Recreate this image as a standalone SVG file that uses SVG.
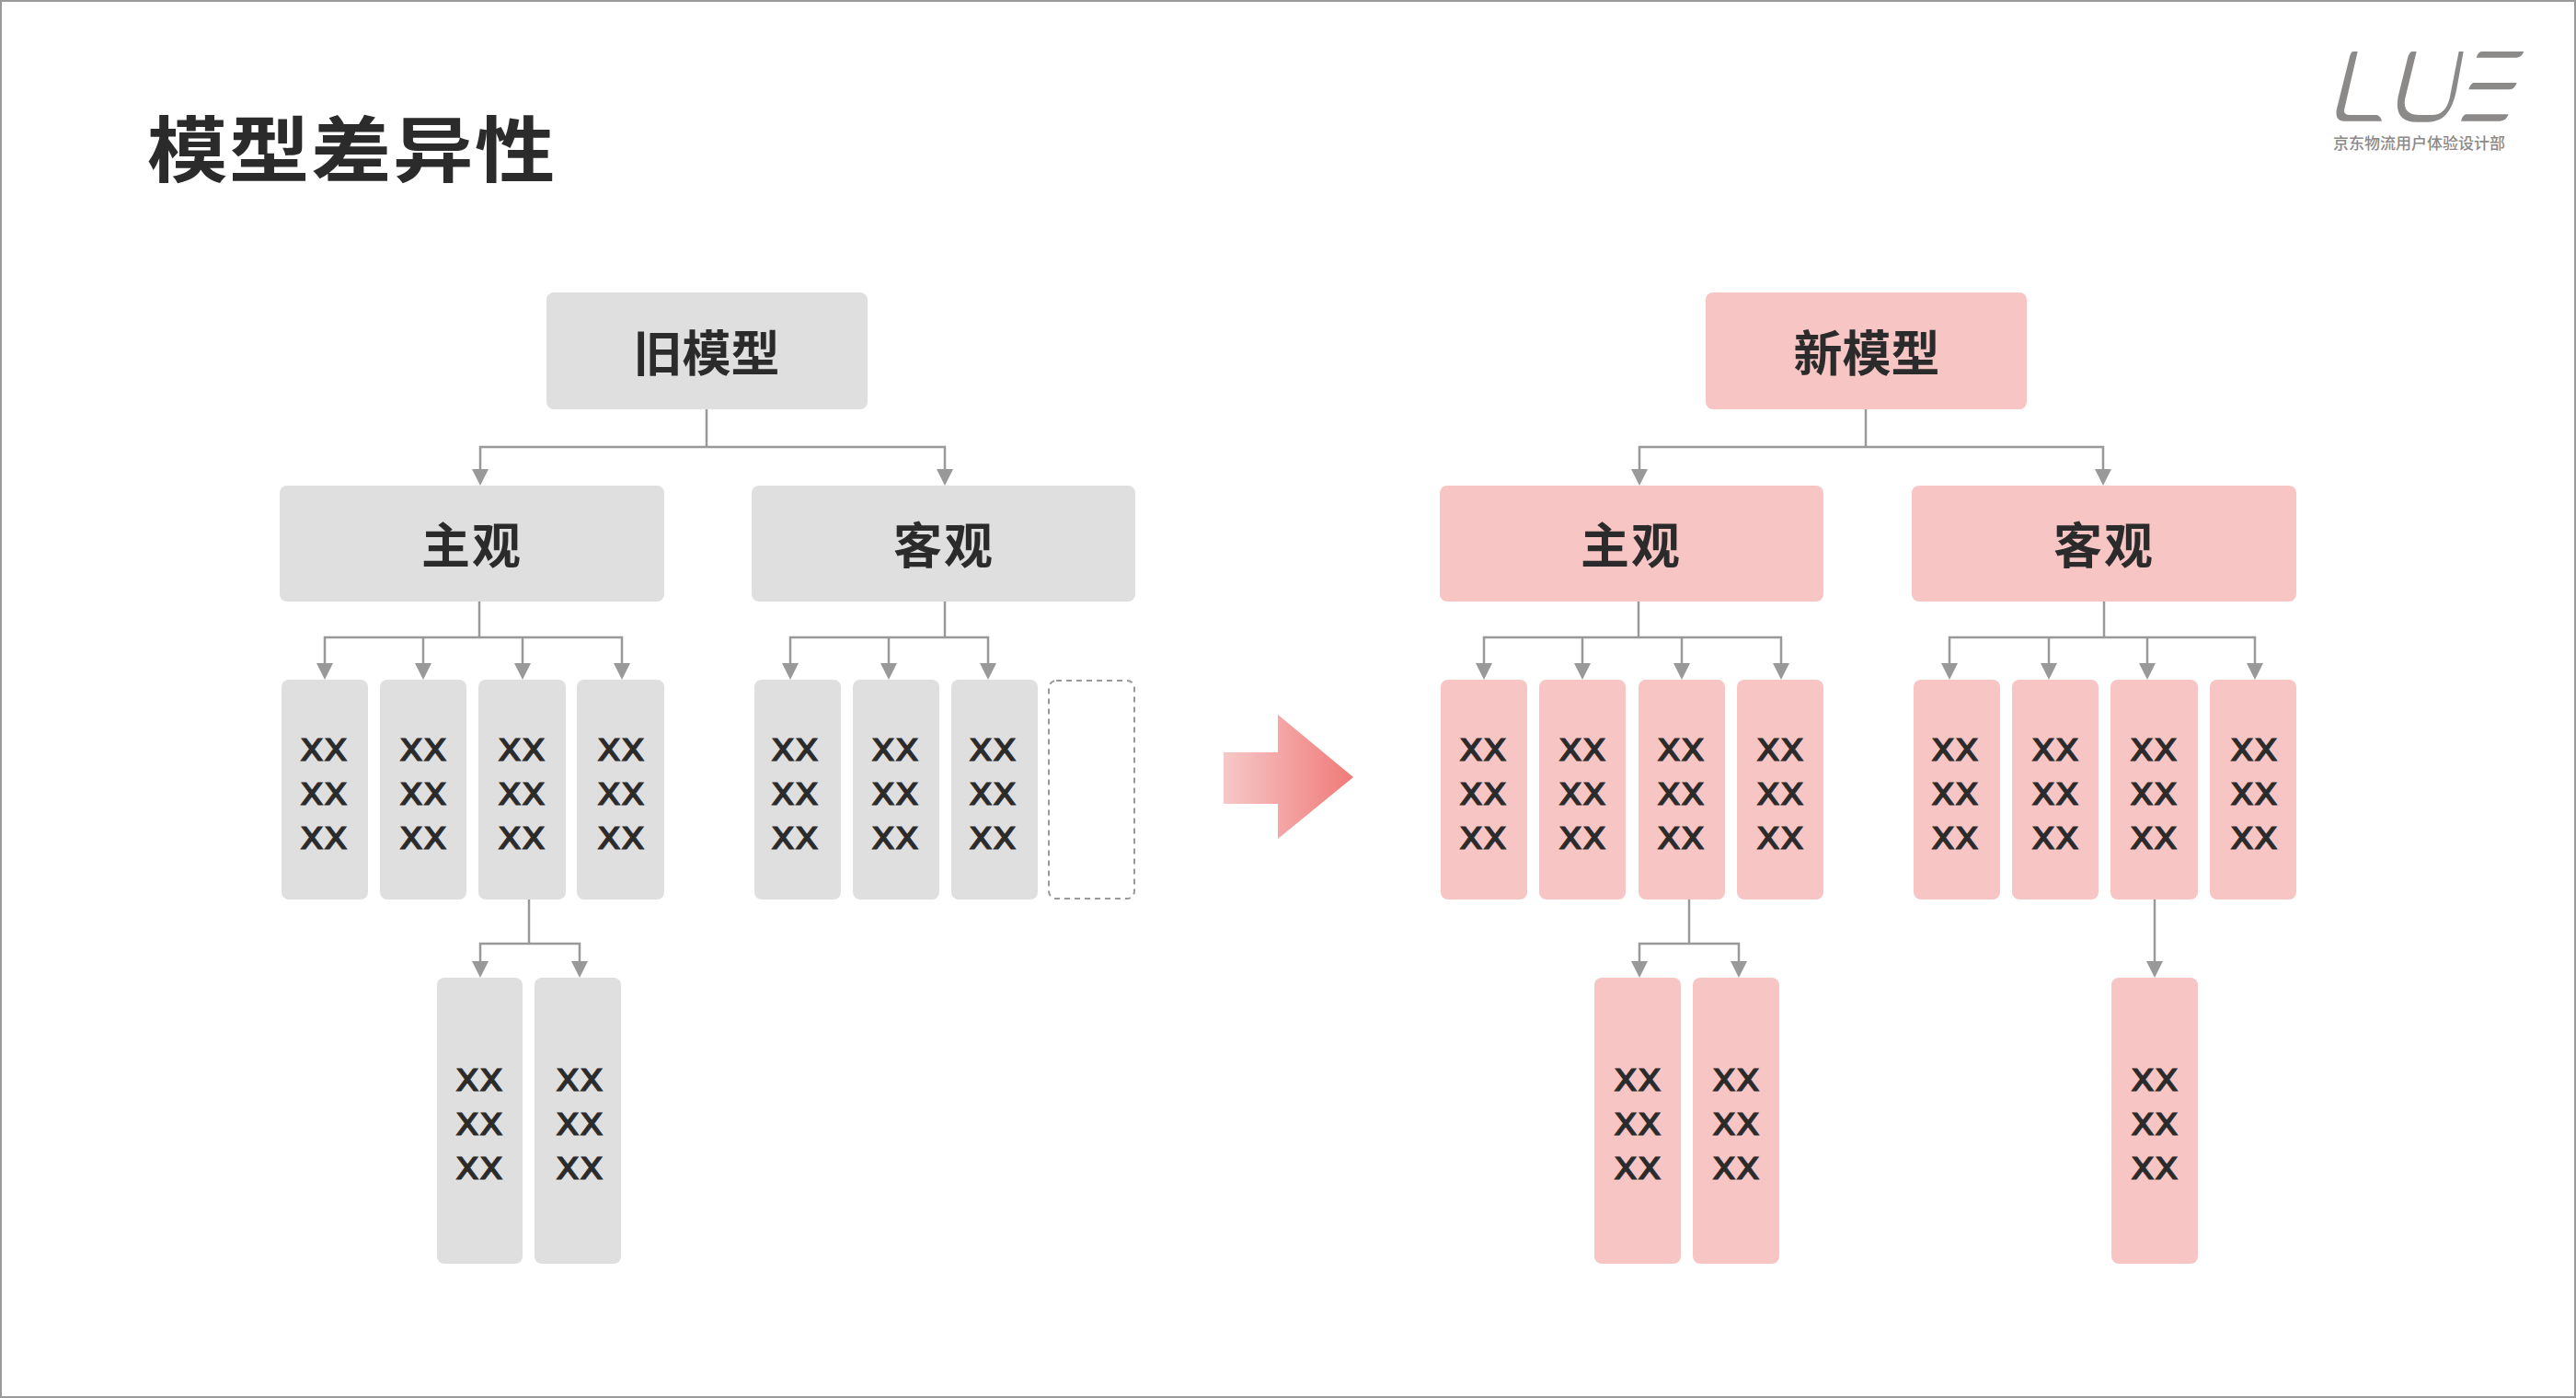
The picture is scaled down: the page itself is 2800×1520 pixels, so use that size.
<svg xmlns="http://www.w3.org/2000/svg" xmlns:xlink="http://www.w3.org/1999/xlink" width="2800" height="1520" viewBox="0 0 2800 1520">
<style>
.g{fill:#dfdfdf}.p{fill:#f8c5c5}
.l{font-family:"Noto Sans CJK SC","Noto Sans",sans-serif;font-weight:700;font-size:53px;fill:#2b2b2b;text-anchor:middle}
.x{font-family:"DejaVu Sans",sans-serif;font-size:44px;fill:#2b2b2b;stroke:#2b2b2b;stroke-width:1.1;text-anchor:middle}
.c{fill:none;stroke:#999;stroke-width:2.5}
.a{marker-end:url(#ah)}
</style>
<defs>
<marker id="ah" markerUnits="userSpaceOnUse" markerWidth="18" markerHeight="18" viewBox="0 0 18 18" refX="8" refY="9" orient="auto"><path d="M0 0L18 9L0 18Z" fill="#999"/></marker>
<linearGradient id="ag" x1="0" y1="0" x2="1" y2="0"><stop offset="0" stop-color="#f6c8c8"/><stop offset="1" stop-color="#f07a78"/></linearGradient>
</defs>
<rect x="1" y="1" width="2798" height="1518" fill="#fff" stroke="#9a9a9a" stroke-width="2"/>
<text id="title" transform="translate(160 192) scale(1.12 1)" font-family="'Noto Sans CJK SC',sans-serif" font-weight="700" font-size="78" letter-spacing="1.5" fill="#2b2b2b">模型差异性</text>
<g id="logo" fill="#8c8989">
<path transform="translate(2480 20) scale(.33333)" d="M233 108L248 108L205 295Q200 315 222 315L310 315Q323 318 327 335L205 335Q172 335 180 295L222 125Q226 110 233 108ZM425 108L440 108L403 260Q392 315 450 315L490 315Q535 315 548 260L578 108L593 108L570 235Q550 338 480 338L440 338Q365 338 380 255L412 125Q418 110 425 108ZM650 108L790 108Q782 128 765 128L635 128Q640 112 650 108ZM625 210L767 210Q760 232 740 232L610 232Q615 214 625 210ZM600 313L740 313Q732 335 712 335L585 335Q590 317 600 313Z"/>
<text x="2536" y="162" font-family="'Noto Sans CJK SC',sans-serif" font-weight="500" font-size="17" letter-spacing="0">京东物流用户体验设计部</text>
</g>
<g id="connectors">
<path class="c" d="M768 445V486"/><path class="c a" d="M768 486H522V518"/><path class="c a" d="M768 486H1027V518"/>
<path class="c" d="M521 654V693"/><path class="c a" d="M521 693H353V729"/><path class="c a" d="M460 693V729"/><path class="c a" d="M568 693V729"/><path class="c a" d="M521 693H676V729"/>
<path class="c" d="M1027 654V693"/><path class="c a" d="M1027 693H859V729"/><path class="c a" d="M966 693V729"/><path class="c a" d="M1027 693H1074V729"/>
<path class="c" d="M575 978V1026"/><path class="c a" d="M575 1026H522V1053"/><path class="c a" d="M575 1026H630V1053"/>
<path class="c" d="M2028 445V486"/><path class="c a" d="M2028 486H1782V518"/><path class="c a" d="M2028 486H2286V518"/>
<path class="c" d="M1781 654V693"/><path class="c a" d="M1781 693H1613V729"/><path class="c a" d="M1720 693V729"/><path class="c a" d="M1828 693V729"/><path class="c a" d="M1781 693H1936V729"/>
<path class="c" d="M2287 654V693"/><path class="c a" d="M2287 693H2119V729"/><path class="c a" d="M2227 693V729"/><path class="c a" d="M2334 693V729"/><path class="c a" d="M2287 693H2451V729"/>
<path class="c" d="M1836 978V1026"/><path class="c a" d="M1836 1026H1782V1053"/><path class="c a" d="M1836 1026H1890V1053"/>
<path class="c a" d="M2342 978V1053"/>
</g>
<g id="old-root"><rect class="g" x="594" y="318" width="349" height="127" rx="8"/><text class="l" x="768" y="404">旧模型</text></g>
<g id="old-subj"><rect class="g" x="304" y="528" width="418" height="126" rx="8"/><text class="l" x="513" y="613" letter-spacing="2">主观</text></g>
<g id="old-obj"><rect class="g" x="817" y="528" width="417" height="126" rx="8"/><text class="l" x="1026" y="613" letter-spacing="2">客观</text></g>
<g id="old-s1"><rect class="g" x="306" y="739" width="94" height="239" rx="8"/><text class="x"><tspan x="352" y="827">xx</tspan><tspan x="352" y="875">xx</tspan><tspan x="352" y="923">xx</tspan></text></g>
<g id="old-s2"><rect class="g" x="413" y="739" width="94" height="239" rx="8"/><text class="x"><tspan x="460" y="827">xx</tspan><tspan x="460" y="875">xx</tspan><tspan x="460" y="923">xx</tspan></text></g>
<g id="old-s3"><rect class="g" x="520" y="739" width="95" height="239" rx="8"/><text class="x"><tspan x="567" y="827">xx</tspan><tspan x="567" y="875">xx</tspan><tspan x="567" y="923">xx</tspan></text></g>
<g id="old-s4"><rect class="g" x="627" y="739" width="95" height="239" rx="8"/><text class="x"><tspan x="675" y="827">xx</tspan><tspan x="675" y="875">xx</tspan><tspan x="675" y="923">xx</tspan></text></g>
<g id="old-o1"><rect class="g" x="820" y="739" width="94" height="239" rx="8"/><text class="x"><tspan x="864" y="827">xx</tspan><tspan x="864" y="875">xx</tspan><tspan x="864" y="923">xx</tspan></text></g>
<g id="old-o2"><rect class="g" x="927" y="739" width="94" height="239" rx="8"/><text class="x"><tspan x="973" y="827">xx</tspan><tspan x="973" y="875">xx</tspan><tspan x="973" y="923">xx</tspan></text></g>
<g id="old-o3"><rect class="g" x="1034" y="739" width="94" height="239" rx="8"/><text class="x"><tspan x="1079" y="827">xx</tspan><tspan x="1079" y="875">xx</tspan><tspan x="1079" y="923">xx</tspan></text></g>
<g id="old-o4"><rect x="1140" y="740" width="93" height="237" rx="8" fill="#fff" stroke="#999" stroke-width="2" stroke-dasharray="6 5"/></g>
<g id="old-l1"><rect class="g" x="475" y="1063" width="93" height="311" rx="8"/><text class="x"><tspan x="521" y="1186">xx</tspan><tspan x="521" y="1234">xx</tspan><tspan x="521" y="1282">xx</tspan></text></g>
<g id="old-l2"><rect class="g" x="581" y="1063" width="94" height="311" rx="8"/><text class="x"><tspan x="630" y="1186">xx</tspan><tspan x="630" y="1234">xx</tspan><tspan x="630" y="1282">xx</tspan></text></g>
<g id="transition"><path d="M1330 818H1389V777L1471 845L1389 912V874H1330Z" fill="url(#ag)"/></g>
<g id="new-root"><rect class="p" x="1854" y="318" width="349" height="127" rx="8"/><text class="l" x="2029" y="404">新模型</text></g>
<g id="new-subj"><rect class="p" x="1565" y="528" width="417" height="126" rx="8"/><text class="l" x="1773" y="613" letter-spacing="2">主观</text></g>
<g id="new-obj"><rect class="p" x="2078" y="528" width="418" height="126" rx="8"/><text class="l" x="2287" y="613" letter-spacing="2">客观</text></g>
<g id="new-s1"><rect class="p" x="1566" y="739" width="94" height="239" rx="8"/><text class="x"><tspan x="1612" y="827">xx</tspan><tspan x="1612" y="875">xx</tspan><tspan x="1612" y="923">xx</tspan></text></g>
<g id="new-s2"><rect class="p" x="1673" y="739" width="94" height="239" rx="8"/><text class="x"><tspan x="1720" y="827">xx</tspan><tspan x="1720" y="875">xx</tspan><tspan x="1720" y="923">xx</tspan></text></g>
<g id="new-s3"><rect class="p" x="1781" y="739" width="94" height="239" rx="8"/><text class="x"><tspan x="1827" y="827">xx</tspan><tspan x="1827" y="875">xx</tspan><tspan x="1827" y="923">xx</tspan></text></g>
<g id="new-s4"><rect class="p" x="1888" y="739" width="94" height="239" rx="8"/><text class="x"><tspan x="1935" y="827">xx</tspan><tspan x="1935" y="875">xx</tspan><tspan x="1935" y="923">xx</tspan></text></g>
<g id="new-o1"><rect class="p" x="2080" y="739" width="94" height="239" rx="8"/><text class="x"><tspan x="2125" y="827">xx</tspan><tspan x="2125" y="875">xx</tspan><tspan x="2125" y="923">xx</tspan></text></g>
<g id="new-o2"><rect class="p" x="2187" y="739" width="94" height="239" rx="8"/><text class="x"><tspan x="2234" y="827">xx</tspan><tspan x="2234" y="875">xx</tspan><tspan x="2234" y="923">xx</tspan></text></g>
<g id="new-o3"><rect class="p" x="2294" y="739" width="95" height="239" rx="8"/><text class="x"><tspan x="2341" y="827">xx</tspan><tspan x="2341" y="875">xx</tspan><tspan x="2341" y="923">xx</tspan></text></g>
<g id="new-o4"><rect class="p" x="2402" y="739" width="94" height="239" rx="8"/><text class="x"><tspan x="2450" y="827">xx</tspan><tspan x="2450" y="875">xx</tspan><tspan x="2450" y="923">xx</tspan></text></g>
<g id="new-l1"><rect class="p" x="1733" y="1063" width="94" height="311" rx="8"/><text class="x"><tspan x="1780" y="1186">xx</tspan><tspan x="1780" y="1234">xx</tspan><tspan x="1780" y="1282">xx</tspan></text></g>
<g id="new-l2"><rect class="p" x="1840" y="1063" width="94" height="311" rx="8"/><text class="x"><tspan x="1887" y="1186">xx</tspan><tspan x="1887" y="1234">xx</tspan><tspan x="1887" y="1282">xx</tspan></text></g>
<g id="new-l3"><rect class="p" x="2295" y="1063" width="94" height="311" rx="8"/><text class="x"><tspan x="2342" y="1186">xx</tspan><tspan x="2342" y="1234">xx</tspan><tspan x="2342" y="1282">xx</tspan></text></g>
</svg>
